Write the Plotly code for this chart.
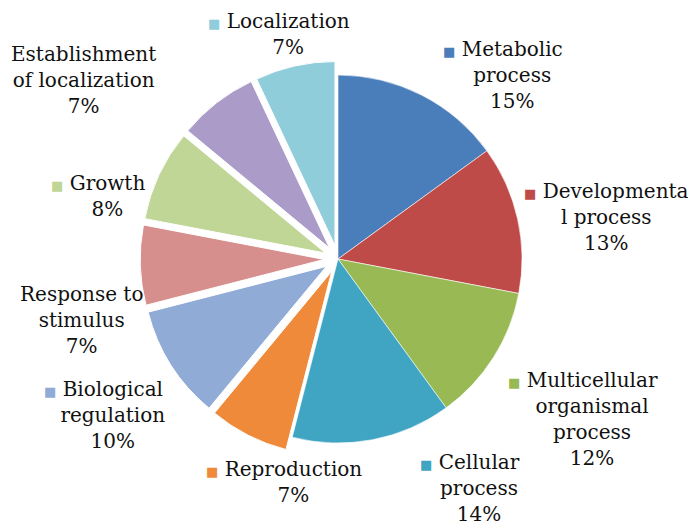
import plotly.graph_objects as go

# GO biological process categories (clockwise from 12 o'clock)
labels = ["Metabolic process", "Developmental process", "Multicellular organismal process",
          "Cellular process", "Reproduction", "Biological regulation",
          "Response to stimulus", "Growth", "Establishment of localization", "Localization"]
values = [15, 13, 12, 14, 7, 10, 7, 8, 7, 7]
# label text as wrapped in the original chart
label_lines = [["Metabolic", "process"], ["Developmenta", "l process"],
               ["Multicellular", "organismal", "process"], ["Cellular", "process"],
               ["Reproduction"], ["Biological", "regulation"], ["Response to", "stimulus"],
               ["Growth"], ["Establishment", "of localization"], ["Localization"]]
show_key = [True, True, True, True, True, True, False, True, False, True]

colors = ["#4A7EBB", "#BE4B48", "#98B954", "#40A5C2", "#EF8A3A",
          "#8FABD6", "#D68F8D", "#C0D696", "#AB9BC8", "#90CDDB"]
exploded = [0, 0, 0, 0, 1, 1, 1, 1, 1, 1]

OFF = 8  # the page body adds an 8px margin
W, H = 696 - OFF, 526 - OFF  # figure size that fits the window without scrollbars
cx, cy, r = 338 - OFF, 259 - OFF, 184
pull = 0.075
half = r * (1 + pull)

# label block centres (px, from top-left of the window)
label_pos = [(512, 75), (606, 217), (592, 419), (479, 488), (293, 482),
             (113, 415), (81, 320), (107, 196), (83, 80), (288, 34)]
pad_key = [True, False, True, True, True, True, True, True, True, True]

FONT = "DejaVu Serif"

fig = go.Figure(go.Pie(
    labels=labels, values=values, sort=False, direction="clockwise", rotation=0,
    textinfo="none", hoverinfo="label+percent",
    pull=[pull * e for e in exploded],
    marker=dict(colors=colors,
                line=dict(color="white", width=[0.6 if e == 0 else 1 for e in exploded])),
    domain=dict(x=[(cx - half) / W, (cx + half) / W],
                y=[(H - cy - half) / H, (H - cy + half) / H]),
    showlegend=False,
))

total = sum(values)
for lines, v, col, key, pad, (px, py) in zip(label_lines, values, colors, show_key,
                                              pad_key, label_pos):
    first = lines[0]
    if key:
        first = f"<span style='color:{col};font-size:13px'>■</span> " + first
        if pad:
            first += " <span style='color:rgba(0,0,0,0);font-size:13px'>■</span>"
    txt = "<br>".join([first] + lines[1:] + [f"{round(100 * v / total)}%"])
    fig.add_annotation(x=(px - OFF) / W, y=1 - (py - OFF) / H, xref="paper", yref="paper",
                       text=txt, showarrow=False, xanchor="center", yanchor="middle",
                       align="center", font=dict(family=FONT, size=20, color="#111111"))

fig.update_layout(width=W, height=H, margin=dict(l=0, r=0, t=0, b=0),
                  paper_bgcolor="white", plot_bgcolor="white",
                  font=dict(family=FONT))
fig.write_html("out.html")
